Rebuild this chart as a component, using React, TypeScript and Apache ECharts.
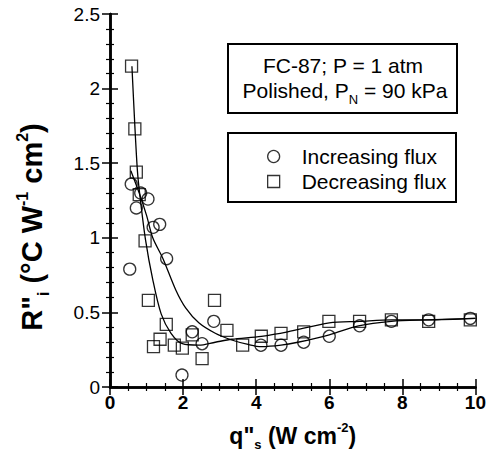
import React, { useEffect, useRef } from "react";
import * as echarts from "echarts";

// Increasing flux (circles)
const incX = [0.54, 0.58, 0.72, 0.84, 1.04, 1.18, 1.36, 1.55, 1.97, 2.25, 2.52, 2.84, 4.13, 4.68, 5.3, 6.0, 6.83, 7.7, 8.72, 9.86];
const incY = [0.79, 1.36, 1.2, 1.3, 1.26, 1.07, 1.09, 0.86, 0.08, 0.37, 0.29, 0.44, 0.28, 0.28, 0.3, 0.34, 0.41, 0.44, 0.45, 0.46];

// Decreasing flux (squares)
const decX = [0.59, 0.68, 0.72, 0.8, 0.96, 1.05, 1.19, 1.37, 1.54, 1.76, 1.98, 2.25, 2.52, 2.86, 3.2, 3.63, 4.14, 4.68, 5.3, 5.99, 6.83, 7.7, 8.72, 9.86];
const decY = [2.15, 1.73, 1.44, 1.29, 0.98, 0.58, 0.27, 0.32, 0.42, 0.28, 0.26, 0.35, 0.19, 0.58, 0.38, 0.28, 0.34, 0.36, 0.37, 0.44, 0.44, 0.45, 0.44, 0.45];

// Fit curves
const fitDecX = [0.6, 0.68, 0.75, 0.81, 0.97, 1.17, 1.4, 1.67, 1.98, 2.43, 2.88, 3.33, 4.14, 4.86, 6.0, 6.83, 7.7, 8.7, 10];
const fitDecY = [2.15, 1.75, 1.45, 1.3, 0.99, 0.72, 0.49, 0.36, 0.29, 0.28, 0.3, 0.32, 0.34, 0.37, 0.43, 0.44, 0.45, 0.45, 0.46];
const fitIncX = [0.57, 0.8, 1.0, 1.17, 1.45, 1.8, 2.07, 2.43, 2.88, 3.33, 3.78, 4.14, 4.68, 5.14, 6.0, 6.8, 7.7, 8.7, 10];
const fitIncY = [1.45, 1.3, 1.15, 1.0, 0.86, 0.65, 0.53, 0.43, 0.36, 0.315, 0.285, 0.27, 0.28, 0.3, 0.35, 0.41, 0.44, 0.45, 0.46];

const FONT = "'Liberation Sans', Arial, Helvetica, sans-serif";

const zip = (xs: number[], ys: number[]) => xs.map((x, i) => [x, ys[i]]);

export default function App() {
  const ref = useRef<HTMLDivElement>(null);
  useEffect(() => {
    if (!ref.current) return;
    const chart = echarts.init(ref.current, null, { renderer: "svg" });
    const axisLine = { show: true, lineStyle: { color: "#000", width: 2.5 } };
    const tick = { show: true, inside: true, length: 8, lineStyle: { color: "#000", width: 1.5 } };
    const minor = (n: number) => ({ show: true, splitNumber: n, length: 4, lineStyle: { color: "#000", width: 1.2 } });
    const nameRich = {
      b: { fontSize: 23, fontWeight: "bold", fontFamily: FONT, color: "#000", verticalAlign: "bottom", padding: [0, 0, 4, 0] },
      sub: { fontSize: 13, fontWeight: "bold", fontFamily: FONT, color: "#000", verticalAlign: "bottom", padding: [0, 0, 0, 0] },
      sup: { fontSize: 13, fontWeight: "bold", fontFamily: FONT, color: "#000", verticalAlign: "bottom", padding: [0, 0, 17, 0] },
    };
    const yRich = {
      b: { fontSize: 29, fontWeight: "bold", fontFamily: FONT, fill: "#000", color: "#000", verticalAlign: "bottom", padding: [0, 0, 5, 0] },
      sub: { fontSize: 16, fontWeight: "bold", fontFamily: FONT, fill: "#000", color: "#000", verticalAlign: "bottom" },
      sup: { fontSize: 16, fontWeight: "bold", fontFamily: FONT, fill: "#000", color: "#000", verticalAlign: "bottom", padding: [0, 0, 21, 0] },
    };
    chart.setOption({
      animation: false,
      backgroundColor: "#fff",
      grid: { left: 110, right: 9, top: 14, bottom: 74 },
      xAxis: [
        {
          type: "value", min: 0, max: 10, interval: 2,
          axisLine, axisTick: tick, minorTick: minor(4), splitLine: { show: false },
          axisLabel: { fontSize: 19, fontWeight: "bold", fontFamily: FONT, color: "#000", margin: 6 },
          name: "{b|q\"}{sub|s}{b| (W cm}{sup|-2}{b|)}",
          nameLocation: "middle", nameGap: 34,
          nameTextStyle: { rich: nameRich },
        },
        {
          type: "value", min: 0, max: 10, interval: 2, position: "top",
          axisLine, axisTick: tick, minorTick: minor(4), splitLine: { show: false },
          axisLabel: { show: false },
        },
      ],
      yAxis: [
        {
          type: "value", min: 0, max: 2.5, interval: 0.5,
          axisLine, axisTick: tick, minorTick: minor(5), splitLine: { show: false },
          axisLabel: { fontSize: 19, fontFamily: FONT, color: "#000", margin: 10 },
        },
        {
          type: "value", min: 0, max: 2.5, interval: 0.5, position: "right",
          axisLine, axisTick: tick, minorTick: minor(5), splitLine: { show: false },
          axisLabel: { show: false },
        },
      ],
      legend: {
        orient: "vertical", left: 267, top: 146, padding: 0, itemWidth: 12, itemHeight: 12, itemGap: 4,
        data: [
          { name: "Increasing flux", icon: "circle" },
          { name: "Decreasing flux", icon: "rect" },
        ],
        textStyle: { fontSize: 21, fontFamily: FONT, color: "#000", lineHeight: 21, padding: [0, 0, 0, 17] },
        itemStyle: { color: "#fff", borderColor: "#000", borderWidth: 1.3 },
      },
      graphic: [
        { type: "rect", shape: { x: 228, y: 44, width: 229, height: 69 }, style: { fill: "#fff", stroke: "#000", lineWidth: 2 }, z: 0 },
        { type: "rect", shape: { x: 228, y: 133, width: 228, height: 69 }, style: { fill: "none", stroke: "#000", lineWidth: 2 }, z: 0 },
        { type: "text", x: 343, y: 65, style: { text: "FC-87; P = 1 atm", fontSize: 21, fontFamily: FONT, fill: "#000", align: "center", verticalAlign: "middle" } },
        {
          type: "text", x: 345, y: 93,
          style: {
            text: "{a|Polished, P}{s|N}{a| = 90 kPa}", align: "center", verticalAlign: "middle",
            rich: {
              a: { fontSize: 21, fontFamily: FONT, fill: "#000", color: "#000", verticalAlign: "bottom", padding: [0, 0, 5, 0] },
              s: { fontSize: 13, fontFamily: FONT, fill: "#000", color: "#000", verticalAlign: "bottom" },
            },
          },
        },
        {
          type: "text", x: 33, y: 227, rotation: Math.PI / 2,
          style: {
            text: "{b|R\"}{sub|i}{b| (°C W}{sup|-1}{b| cm}{sup|2}{b|)}",
            align: "center", verticalAlign: "middle", rich: yRich,
          },
        },
      ],
      series: [
        {
          name: "Increasing flux", type: "scatter", symbol: "circle", symbolSize: 12,
          data: zip(incX, incY),
          itemStyle: { color: "rgba(255,255,255,0)", borderColor: "#000", borderWidth: 1.3 },
          z: 3,
        },
        {
          name: "Decreasing flux", type: "scatter", symbol: "rect", symbolSize: 12,
          data: zip(decX, decY),
          itemStyle: { color: "rgba(255,255,255,0)", borderColor: "#000", borderWidth: 1.3 },
          z: 3,
        },
        {
          name: "fitDec", type: "line", data: zip(fitDecX, fitDecY), showSymbol: false, smooth: 0.3,
          lineStyle: { color: "#000", width: 1.3 }, z: 2,
        },
        {
          name: "fitInc", type: "line", data: zip(fitIncX, fitIncY), showSymbol: false, smooth: 0.3,
          lineStyle: { color: "#000", width: 1.3 }, z: 2,
        },
      ],
    });
    return () => chart.dispose();
  }, []);
  return <div ref={ref} style={{ width: 489, height: 461, position: "absolute", left: 0, top: 0 }} />;
}
